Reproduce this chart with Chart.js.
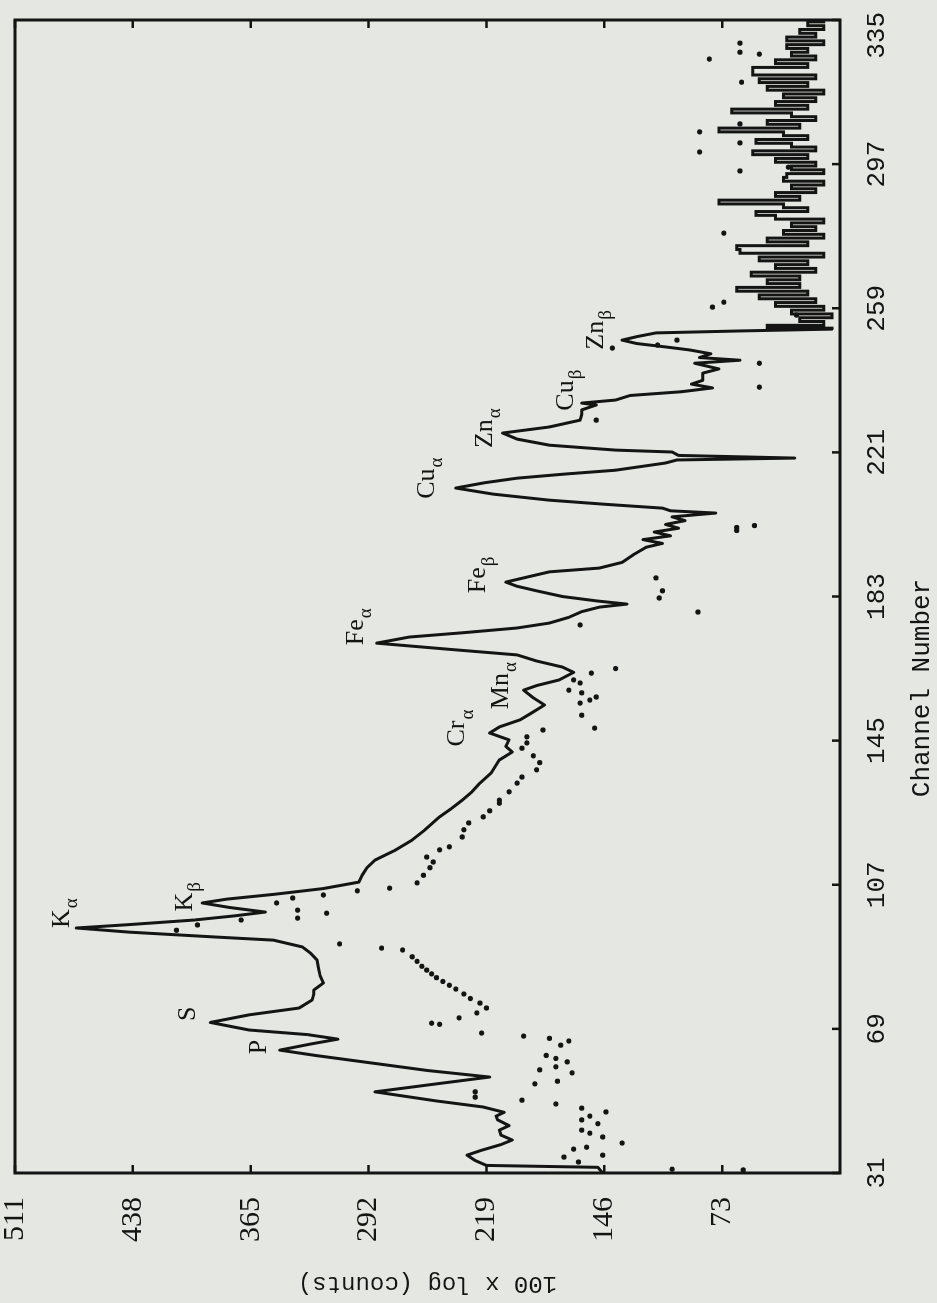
<!DOCTYPE html>
<html><head><meta charset="utf-8">
<script src="https://cdn.jsdelivr.net/npm/chart.js@4.4.1/dist/chart.umd.min.js"></script>
<style>
html,body{margin:0;padding:0;width:937px;height:1303px;overflow:hidden;background:#e4e7e2;}
#wrap{position:absolute;left:0;top:0;width:1303px;height:937px;transform-origin:0 0;transform:translate(0px,1303px) rotate(-90deg);}
canvas{display:block;}
</style></head><body>
<div id="wrap"><canvas id="c" width="1303" height="937"></canvas></div>
<script>
// ---- data ----
const channelTicks = [31, 69, 107, 145, 183, 221, 259, 297, 335];
const countTicks = [73, 146, 219, 292, 365, 438, 511];

// main spectrum (solid line), channels 31 - 253.5
const lineChannels = [31,32.5,33,34.3,35.7,37,38.5,39.7,41,42.3,43.5,45,46,47,48.4,
 50,52.4,54.5,56.3,58,60,62,63.4,65,66.3,67.5,68.7,70.7,72.7,74.5,76.6,78,79.2,81.1,83,85,87.2,89,90.6,92.4,93.2,94.5,95.6,96.5,97.7,98.8,99.8,101,102.2,103.2,104.5,106,107.7,109.5,111.5,113.5,116,118.8,121.5,124.9,127,129.3,131.5,133.8,136.5,139.9,142,143.5,145.2,147,148.6,150.5,152.3,154.4,156.3,158.3,159.5,161,163,164.4,166,167.6,169,170.7,172.3,173.5,174.7,176,177.5,179,180.2,181,181.8,183,184.5,185.7,186.8,188,189.5,190.5,192,194,196,197,198,199,200,201,202,203,204,205,205.6,206.3,207.3,208.4,210,211.6,213,214.2,215.3,216.3,218.2,219,219.5,220.2,221.1,221.6,222.9,224.5,226.1,227.7,229.5,231,232.2,233.5,234,234.8,236,237,238,239,240,241.9,243,244.5,245.3,246,247,248,248.8,249.7,250.6,251.5,252.5,253,253.5];
const lineCounts = [147,150,219,226,231,222,210,203,210,211,205,212,213,208,221,
 250,288,250,217,255,290,325,347,328,311,330,366,390,366,335,327,326,326,320,322,323,324,328,333,351,386,440,473,440,400,375,356,378,395,380,350,320,298,296,293,288,276,265,257,248,241,234,228,223,216,211,203,207,205,217,211,198,191,183,190,196,188,174,165,172,188,200,240,287,267,232,200,180,168,160,149,132,150,172,188,200,207,195,180,149,135,128,120,110,122,105,115,100,108,96,104,77,105,110,145,180,215,238,220,200,170,139,108,101,28,100,104,139,180,200,209,180,161,160,160,151,160,139,130,98,79,92,85,85,75,90,62,87,80,93,108,126,135,126,114,64,5];

// noisy tail of the same spectrum (drawn as steps), channels 253.5 - 335
const tailChannels = [253.5,254,255,256,257,258,259,260,261,262,263,264,265,266,267,268,269,270,271,272,273,274,275,276,277,278,279,280,281,282,283,284,285,286,287,288,289,290,291,292,293,294,295,296,297,298,299,300,301,302,303,304,305,306,307,308,309,310,311,312,313,314,315,316,317,318,319,320,321,322,323,324,325,326,327,328,329,330,331,332,333,334,335];
const tailCounts = [5,45,10,25,5,30,10,40,15,50,20,64,25,45,25,55,15,40,20,50,10,62,64,20,45,10,35,15,30,10,40,52,20,35,75,25,40,15,30,10,35,33,10,30,15,40,20,54,15,30,52,20,35,75,25,45,15,30,67,20,40,15,35,10,45,20,50,15,54,54,20,40,15,30,20,33,10,33,15,25,10,20,10];

// second spectrum (dots)
const dotChannels = [31.8,32,33.9,35.2,35.7,37.3,37.8,38.9,40.5,41.5,42.3,44,45,46,47.1,48.1,49.2,50.2,51,52.4,54.5,55.2,57.4,58.2,59,60.3,61.2,62,64.7,65.8,66.5,67.1,67.9,70.2,70.5,71.9,73.2,74.5,75.8,77,78.2,79.5,80.5,81.5,82.5,83.5,84.5,85.5,86.8,88,89.8,90.3,91.4,95,96.4,97.7,98.2,99.5,100.3,102.2,103.5,104.3,105.4,106.1,107.5,109.5,111.5,113,114.3,116.2,117,119.6,121.5,123.3,124.9,126.5,128.5,129.3,131.5,133.8,135.4,137.3,139.2,141,143,144.4,146,147.8,148.3,151.7,154.9,155.7,156.5,157.6,158.3,160.2,161,162.8,164,175.5,178.9,182.6,184.5,187.9,200.4,201.2,201.7,229.5,238.2,244.5,248.5,249.3,250.6,257.2,259.3,260.6,278.8,295.2,296.2,300.2,302.6,305.5,307.6,318.6,324.7,326,326.5,328.9];
const dotCounts = [60,104,162,171,147,165,157,135,147,155,160,150,160,155,145,160,176,197,226,226,189,175,166,186,176,169,176,182,173,168,180,196,222,248,253,236,225,219,223,229,233,238,242,246,250,253,256,259,262,265,271,284,310,411,398,371,336,318,336,349,339,320,299,279,262,258,254,252,256,248,242,234,233,230,221,217,211,211,205,200,197,188,186,190,197,194,194,184,152,160,161,155,151,160,168,161,165,154,139,161,88,112,110,114,64,64,53,151,50,50,141,113,101,27,79,72,72,62,32,87,62,87,62,61,81,50,62,62];

// peak annotations
const peakBase = ['K','K','S','P','Cr','Mn','Fe','Fe','Cu','Zn','Cu','Zn'];
const peakSub  = ['α','β','','','α','α','α','β','α','α','β','β'];
const peakChannels = [99.5,103.8,73,64.2,148.3,159.5,175,188.7,214.2,227.4,237.4,253.3];
const peakCounts   = [480,404,402,358,235,208,298,222,254,218,168,149];

// ---- styling ----
const INK = '#141414';
const MONO = '"Liberation Mono", "DejaVu Sans Mono", monospace';
const SERIF = '"Liberation Serif", "DejaVu Serif", serif';
const lastChannel = channelTicks[channelTicks.length - 1];

const decor = {
  id: 'decor',
  afterDatasetsDraw(chart) {
    const {ctx, chartArea: a, scales: {x, y}} = chart;
    ctx.save();
    ctx.strokeStyle = INK; ctx.fillStyle = INK;
    ctx.lineWidth = 3;
    ctx.strokeRect(a.left, a.top, a.right - a.left, a.bottom - a.top);
    ctx.lineWidth = 2.5;
    channelTicks.forEach(t => {
      const px = x.getPixelForValue(t);
      ctx.beginPath(); ctx.moveTo(px, a.bottom); ctx.lineTo(px, a.bottom - 8); ctx.stroke();
    });
    countTicks.forEach(t => {
      const py = y.getPixelForValue(t);
      ctx.beginPath();
      ctx.moveTo(a.left, py); ctx.lineTo(a.left + 8, py);
      ctx.moveTo(a.right, py); ctx.lineTo(a.right - 8, py);
      ctx.stroke();
    });
    // last channel label, kept inside the page as in the original
    ctx.font = '26px ' + MONO;
    ctx.textAlign = 'right'; ctx.textBaseline = 'middle';
    ctx.fillText(String(lastChannel), x.getPixelForValue(lastChannel) + 8, a.bottom + 37);
    // peak labels
    const baseFont = '26px ' + SERIF, subFont = '19px ' + SERIF;
    peakBase.forEach((b, i) => {
      const s = peakSub[i];
      ctx.font = baseFont; const wb = ctx.measureText(b).width;
      ctx.font = subFont; const ws = s ? ctx.measureText(s).width + 1 : 0;
      const cx = x.getPixelForValue(peakChannels[i]);
      const cy = y.getPixelForValue(peakCounts[i]);
      const x0 = cx - (wb + ws) / 2;
      ctx.textBaseline = 'middle'; ctx.textAlign = 'left';
      ctx.font = baseFont; ctx.fillText(b, x0, cy - 3);
      if (s) { ctx.font = subFont; ctx.fillText(s, x0 + wb + 1, cy + 7); }
    });
    // channel axis title
    ctx.font = '26px ' + MONO;
    ctx.textAlign = 'center'; ctx.textBaseline = 'middle';
    ctx.fillText('Channel Number', 615, 922);
    ctx.restore();
  }
};

new Chart(document.getElementById('c'), {
  type: 'scatter',
  data: {
    datasets: [
      {
        label: 'spectrum',
        data: lineChannels.map((c, i) => ({x: c, y: lineCounts[i]})),
        showLine: true, borderColor: INK, borderWidth: 3, pointRadius: 0,
        tension: 0, borderJoinStyle: 'round', borderCapStyle: 'round', fill: false
      },
      {
        label: 'spectrum tail',
        data: tailChannels.map((c, i) => ({x: c, y: tailCounts[i]})),
        showLine: true, stepped: 'middle', borderColor: INK, borderWidth: 3, pointRadius: 0,
        borderJoinStyle: 'miter', fill: false
      },
      {
        label: 'points',
        data: dotChannels.map((c, i) => ({x: c, y: dotCounts[i]})),
        showLine: false, pointRadius: 2.6, pointBackgroundColor: INK, pointBorderWidth: 0
      }
    ]
  },
  options: {
    responsive: false, animation: false, devicePixelRatio: 1,
    layout: {padding: {top: 15, right: 20, left: 0, bottom: 0}},
    plugins: {legend: {display: false}, tooltip: {enabled: false}},
    scales: {
      x: {
        type: 'linear', position: 'bottom', min: 31, max: 335,
        afterBuildTicks: s => { s.ticks = channelTicks.map(v => ({value: v})); },
        afterFit: s => { s.height = 97; s.paddingLeft = 0; s.paddingRight = 0; },
        grid: {display: false, drawTicks: false}, border: {display: false},
        ticks: {font: {family: MONO, size: 26}, color: INK, padding: 22, maxRotation: 0, minRotation: 0, autoSkip: false,
                callback: v => (v === lastChannel ? '' : String(v))}
      },
      y: {
        type: 'linear', position: 'left', min: 0, max: 511,
        afterBuildTicks: s => { s.ticks = countTicks.map(v => ({value: v})); },
        afterFit: s => { s.width = 130; s.paddingTop = 0; s.paddingBottom = 0; },
        grid: {display: false, drawTicks: false}, border: {display: false},
        ticks: {font: {family: SERIF, size: 30}, color: INK, padding: 24, autoSkip: false},
        title: {display: true, text: '100 x log (counts)', font: {family: MONO, size: 24}, color: INK, padding: {top: 5, bottom: 0}}
      }
    }
  },
  plugins: [decor]
});
</script>
</body></html>
